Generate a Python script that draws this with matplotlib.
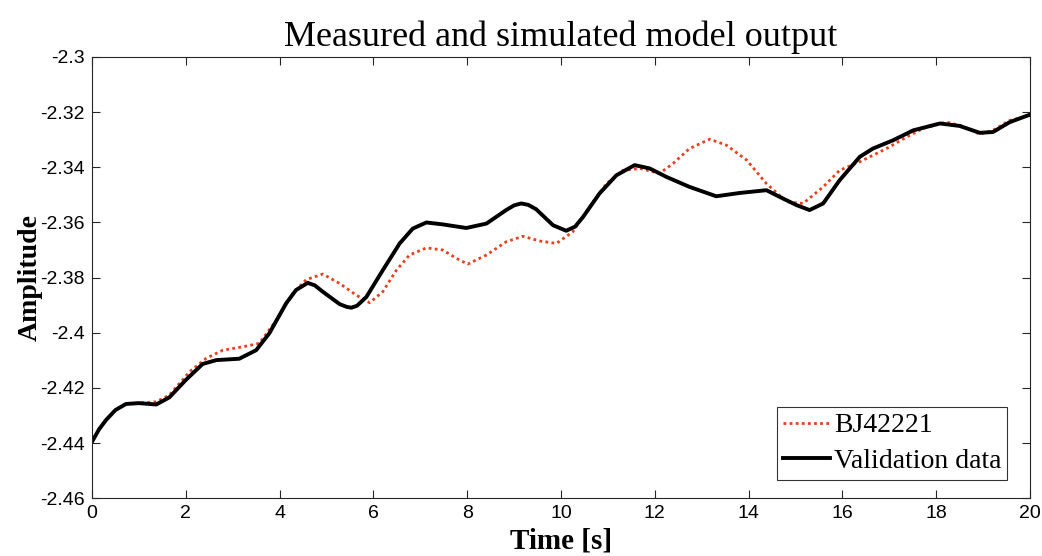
import matplotlib
matplotlib.use("Agg")
import matplotlib.pyplot as plt

# Validation data (black)
t_val = [0, 0.15, 0.30, 0.50, 0.725, 1.0, 1.37, 1.65, 2.0, 2.36, 2.65, 3.14, 3.5, 3.78, 4.14,
         4.35, 4.60, 4.75, 4.92, 5.28, 5.43, 5.53, 5.65, 5.85, 6.2, 6.56, 6.84, 7.13, 7.48,
         7.98, 8.41, 8.83, 9.0, 9.15, 9.30, 9.47, 9.83, 10.11, 10.30, 10.47, 10.82, 11.18,
         11.57, 11.89, 12.25, 12.74, 13.31, 13.81, 14.38, 14.66, 15.02, 15.30, 15.59, 15.94,
         16.37, 16.65, 17.08, 17.51, 18.08, 18.50, 18.93, 19.21, 19.57, 20.0]
y_val = [-2.4395, -2.4350, -2.4316, -2.4280, -2.4258, -2.4255, -2.4260, -2.4234, -2.4171,
         -2.4113, -2.4099, -2.4094, -2.4063, -2.4002, -2.3893, -2.3845, -2.3819, -2.3828,
         -2.3851, -2.3896, -2.3906, -2.3909, -2.3902, -2.3870, -2.3773, -2.3676, -2.3622,
         -2.3600, -2.3607, -2.3620, -2.3604, -2.3555, -2.3538, -2.3531, -2.3536, -2.3552,
         -2.3610, -2.3630, -2.3615, -2.3580, -2.3495, -2.3429, -2.3392, -2.3404, -2.3435,
         -2.3471, -2.3505, -2.3493, -2.3483, -2.3507, -2.3537, -2.3555, -2.3531, -2.3447,
         -2.3362, -2.3332, -2.3302, -2.3266, -2.3241, -2.3250, -2.3275, -2.3272, -2.3236,
         -2.3209]

# BJ42221 model (red dotted)
t_bj = [0, 0.15, 0.30, 0.50, 0.725, 1.37, 1.65, 2.08, 2.43, 2.79, 3.21, 3.57, 3.93, 4.28,
        4.57, 4.92, 5.28, 5.63, 5.92, 6.2, 6.49, 6.77, 7.13, 7.48, 7.77, 8.01, 8.41, 8.83,
        9.19, 9.54, 9.9, 10.25, 10.61, 10.97, 11.32, 11.68, 12.1, 12.39, 12.74, 13.17,
        13.53, 13.96, 14.38, 14.81, 15.16, 15.59, 15.94, 16.37, 16.94, 17.37, 17.72, 18.22,
        18.57, 18.93, 19.21, 19.57, 20.0]
y_bj = [-2.4395, -2.4350, -2.4316, -2.4280, -2.4258, -2.4250, -2.4226, -2.4141, -2.4093,
        -2.4063, -2.4051, -2.4038, -2.3954, -2.3857, -2.3807, -2.3787, -2.3821, -2.3863,
        -2.3891, -2.3851, -2.3773, -2.3718, -2.3692, -2.3700, -2.3730, -2.3751, -2.3718,
        -2.3670, -2.3650, -2.3667, -2.3676, -2.3634, -2.3543, -2.3459, -2.3411, -2.3404,
        -2.3422, -2.3386, -2.3332, -2.3298, -2.3320, -2.3374, -2.3459, -2.3525, -2.3531,
        -2.3471, -2.3411, -2.3380, -2.3332, -2.3290, -2.3259, -2.3236, -2.3251, -2.3280,
        -2.3266, -2.3230, -2.3211]

x_ticks = list(range(0, 21, 2))
y_ticks = [-2.46, -2.44, -2.42, -2.40, -2.38, -2.36, -2.34, -2.32, -2.30]
y_tick_labels = ["-2.46", "-2.44", "-2.42", "-2.4", "-2.38", "-2.36", "-2.34", "-2.32", "-2.3"]

fig = plt.figure(figsize=(10.42, 5.56), dpi=100)
ax = fig.add_axes([0.0883, 0.1038, 0.9002, 0.7937])

ax.plot(t_bj, y_bj, linestyle=(0, (1, 1.2)), color="#E8401C", linewidth=2.0, label="BJ42221")
ax.plot(t_val, y_val, color="black", linewidth=2.8, label="Validation data")

ax.set_xlim(0, 20)
ax.set_ylim(-2.46, -2.30)
ax.set_xticks(x_ticks)
ax.set_yticks(y_ticks)
ax.set_yticklabels(y_tick_labels)
ax.tick_params(direction="in", top=True, right=True, length=6, width=0.8,
               labelsize=14, colors="#262626", pad=5)
for lab in ax.get_xticklabels() + ax.get_yticklabels():
    lab.set_fontfamily("Liberation Sans")
    lab.set_color("black")
for s in ax.spines.values():
    s.set_linewidth(0.8)
    s.set_color("#262626")

ax.set_title("Measured and simulated model output", fontfamily="Liberation Serif",
             fontsize=26, pad=8)
ax.set_xlabel("Time [s]", fontfamily="Liberation Serif", fontweight="bold", fontsize=21,
              labelpad=4)
ax.set_ylabel("Amplitude", fontfamily="Liberation Serif", fontweight="bold", fontsize=20,
              labelpad=-2)

leg = ax.legend(loc="lower right", prop={"family": "Liberation Serif", "size": 20},
                frameon=True, fancybox=False, edgecolor="black", handlelength=1.7,
                handletextpad=0.15, borderpad=0.2, labelspacing=0.37,
                bbox_to_anchor=(0.9755, 0.042), borderaxespad=0)
leg.get_frame().set_linewidth(0.8)

fig.savefig("out.png", dpi=100)
